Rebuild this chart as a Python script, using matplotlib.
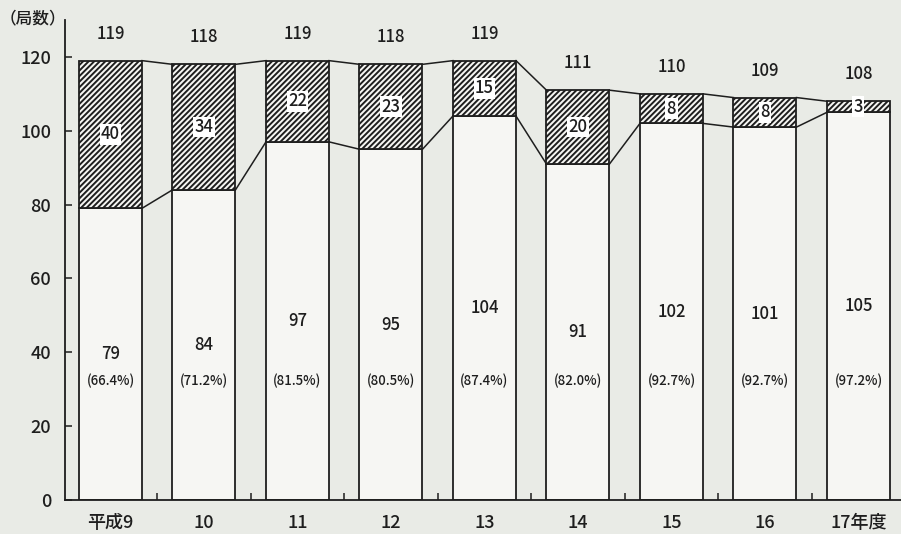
import matplotlib.pyplot as plt
import numpy as np

plt.rcParams['font.family'] = ['Noto Sans CJK JP', 'DejaVu Sans']

years = ['平成9', '10', '11', '12', '13', '14', '15', '16', '17年度']
base = [79, 84, 97, 95, 104, 91, 102, 101, 105]
hatched = [40, 34, 22, 23, 15, 20, 8, 8, 3]
totals = [119, 118, 119, 118, 119, 111, 110, 109, 108]
shares = ['(66.4%)', '(71.2%)', '(81.5%)', '(80.5%)', '(87.4%)',
          '(82.0%)', '(92.7%)', '(92.7%)', '(97.2%)']

bg = '#e9ebe6'
ink = '#1e1e1e'
w = 0.674
wt = 'medium'

fig = plt.figure(figsize=(9.01, 5.34), dpi=100, facecolor=bg)
ax = fig.add_axes([0.0721, 0.0637, 0.9279, 0.8988])
ax.set_facecolor(bg)

x = np.arange(len(years))
plt.rcParams['hatch.color'] = ink
plt.rcParams['hatch.linewidth'] = 1.4
ax.bar(x, base, w, color='#f6f6f3', edgecolor=ink, linewidth=1.3, zorder=2)
ax.bar(x, hatched, w, bottom=base, color='#f6f6f3', edgecolor=ink,
       hatch='//////', linewidth=1.3, zorder=2)

# lines joining neighbouring bars
for i in range(len(x) - 1):
    ax.plot([x[i] + w / 2, x[i + 1] - w / 2], [totals[i], totals[i + 1]],
            color=ink, lw=1.1, zorder=1)
    ax.plot([x[i] + w / 2, x[i + 1] - w / 2], [base[i], base[i + 1]],
            color=ink, lw=1.1, zorder=1)

for i in range(len(x)):
    ax.text(x[i], totals[i] + 7.3, str(totals[i]), ha='center', va='center',
            fontsize=12, fontweight=wt, color=ink, zorder=3)
    ax.text(x[i], base[i] + hatched[i] / 2, str(hatched[i]), ha='center',
            va='center', fontsize=12, fontweight=wt, color=ink, zorder=3,
            bbox=dict(boxstyle='square,pad=0.08', fc='white', ec='none'))
    ax.text(x[i], base[i] / 2, str(base[i]), ha='center', va='center',
            fontsize=12, fontweight=wt, color=ink, zorder=3)
    ax.text(x[i], 32.2, shares[i], ha='center', va='center',
            fontsize=9.5, fontweight=wt, color=ink, zorder=3)

ax.set_xlim(-0.487, 8.455)
ax.set_ylim(0, 130)
ax.set_yticks(range(0, 121, 20))
ax.set_xticks(x)
ax.set_xticklabels(years, fontsize=13, fontweight=wt)
ax.set_xticks(x[:-1] + 0.5, minor=True)
ax.tick_params(axis='x', which='major', length=0, pad=10, colors=ink)
ax.tick_params(axis='x', which='minor', direction='in', length=5, width=1.1, color=ink)
ax.tick_params(axis='y', direction='in', length=5, width=1.1, labelsize=13,
               colors=ink, pad=10)
for lab in ax.get_yticklabels():
    lab.set_fontweight(wt)
for s in ['top', 'right']:
    ax.spines[s].set_visible(False)
for s in ['left', 'bottom']:
    ax.spines[s].set_color(ink)
    ax.spines[s].set_linewidth(1.3)

fig.text(0.037, 0.965, '（局数）', ha='center', va='center', fontsize=12,
         fontweight=wt, color=ink)

fig.savefig('out.png', dpi=100, facecolor=bg)
